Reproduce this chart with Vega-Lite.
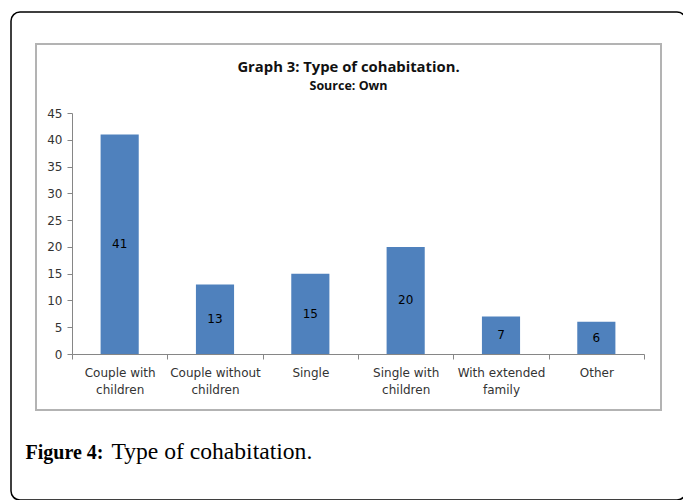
{
  "$schema": "https://vega.github.io/schema/vega-lite/v6.json",
  "padding": {"left": 11, "top": 12, "right": 0, "bottom": 0},
  "background": "white",
  "width": 675,
  "height": 488,
  "view": {"stroke": "#000000", "strokeWidth": 1.5, "cornerRadius": 9, "fill": "white"},
  "title": {
    "text": "Graph 3: Type of cohabitation.",
    "subtitle": "Source: Own",
    "anchor": "middle",
    "frame": "group",
    "offset": -80,
    "font": "Open Sans",
    "fontSize": 14.8,
    "fontWeight": "bold",
    "color": "#111111",
    "subtitleFont": "Open Sans",
    "subtitleFontSize": 12.5,
    "subtitleFontWeight": "bold",
    "subtitleColor": "#111111",
    "subtitlePadding": 4.5
  },
  "data": {
    "values": [
      {"category": "Couple with children", "value": 41},
      {"category": "Couple without children", "value": 13},
      {"category": "Single", "value": 15},
      {"category": "Single with children", "value": 20},
      {"category": "With extended family", "value": 7},
      {"category": "Other", "value": 6}
    ]
  },
  "layer": [
    {
      "data": {"values": [{"frame": "chart area"}]},
      "mark": {"type": "rect", "filled": false, "stroke": "#b3b3b3", "strokeWidth": 2},
      "encoding": {
        "x": {"datum": 0, "type": "quantitative", "scale": {"domain": [0, 1], "range": [25, 650]}, "axis": null},
        "x2": {"datum": 1},
        "y": {"datum": 0, "type": "quantitative", "scale": {"domain": [0, 1], "range": [398, 32]}, "axis": null},
        "y2": {"datum": 1}
      }
    },
    {
      "mark": {"type": "bar", "color": "#4F81BD", "width": {"band": 0.4}},
      "encoding": {
        "x": {
          "field": "category",
          "type": "nominal",
          "sort": null,
          "scale": {"range": [61, 633], "paddingInner": 0, "paddingOuter": 0},
          "axis": {
            "offset": -146,
            "tickBand": "extent",
            "tickSize": 5,
            "tickColor": "#868686",
            "domainColor": "#868686",
            "labelAngle": 0,
            "labelBaseline": "top",
            "labelPadding": 8,
            "labelLineHeight": 17,
            "labelFont": "DejaVu Sans",
            "labelFontSize": 12,
            "labelColor": "#333333",
            "labelExpr": "indexof(datum.label, ' ') < 0 ? datum.label : [slice(datum.label, 0, lastindexof(datum.label, ' ')), slice(datum.label, lastindexof(datum.label, ' ') + 1)]",
            "title": "Type of cohabitation.",
            "titleX": 100,
            "titleY": 104,
            "titleAlign": "left",
            "titleBaseline": "alphabetic",
            "titleFont": "Liberation Serif",
            "titleFontSize": 23.6,
            "titleFontWeight": "normal",
            "titleColor": "#000000"
          }
        },
        "y": {
          "field": "value",
          "type": "quantitative",
          "scale": {"domain": [0, 45], "range": [342, 101], "nice": false},
          "axis": {
            "offset": -61,
            "values": [0, 5, 10, 15, 20, 25, 30, 35, 40, 45],
            "grid": false,
            "tickSize": 5,
            "tickColor": "#868686",
            "domainColor": "#868686",
            "labelFont": "DejaVu Sans",
            "labelFontSize": 12,
            "labelColor": "#333333",
            "labelPadding": 5,
            "title": "Figure 4:",
            "titleAngle": 0,
            "titleX": -47,
            "titleY": 446,
            "titleAlign": "left",
            "titleBaseline": "alphabetic",
            "titleFont": "Liberation Serif",
            "titleFontSize": 20,
            "titleFontWeight": "bold",
            "titleColor": "#000000"
          }
        }
      }
    },
    {
      "mark": {"type": "text", "baseline": "middle", "align": "center", "font": "DejaVu Sans", "fontSize": 12, "color": "#000000"},
      "encoding": {
        "x": {
          "field": "category",
          "type": "nominal",
          "sort": null,
          "scale": {"range": [61, 633], "paddingInner": 0, "paddingOuter": 0},
          "axis": null
        },
        "y": {
          "field": "value",
          "type": "quantitative",
          "scale": {"domain": [0, 90], "range": [342, 101], "nice": false},
          "axis": null
        },
        "text": {"field": "value", "type": "quantitative"}
      }
    }
  ],
  "resolve": {"scale": {"x": "independent", "y": "independent"}}
}
